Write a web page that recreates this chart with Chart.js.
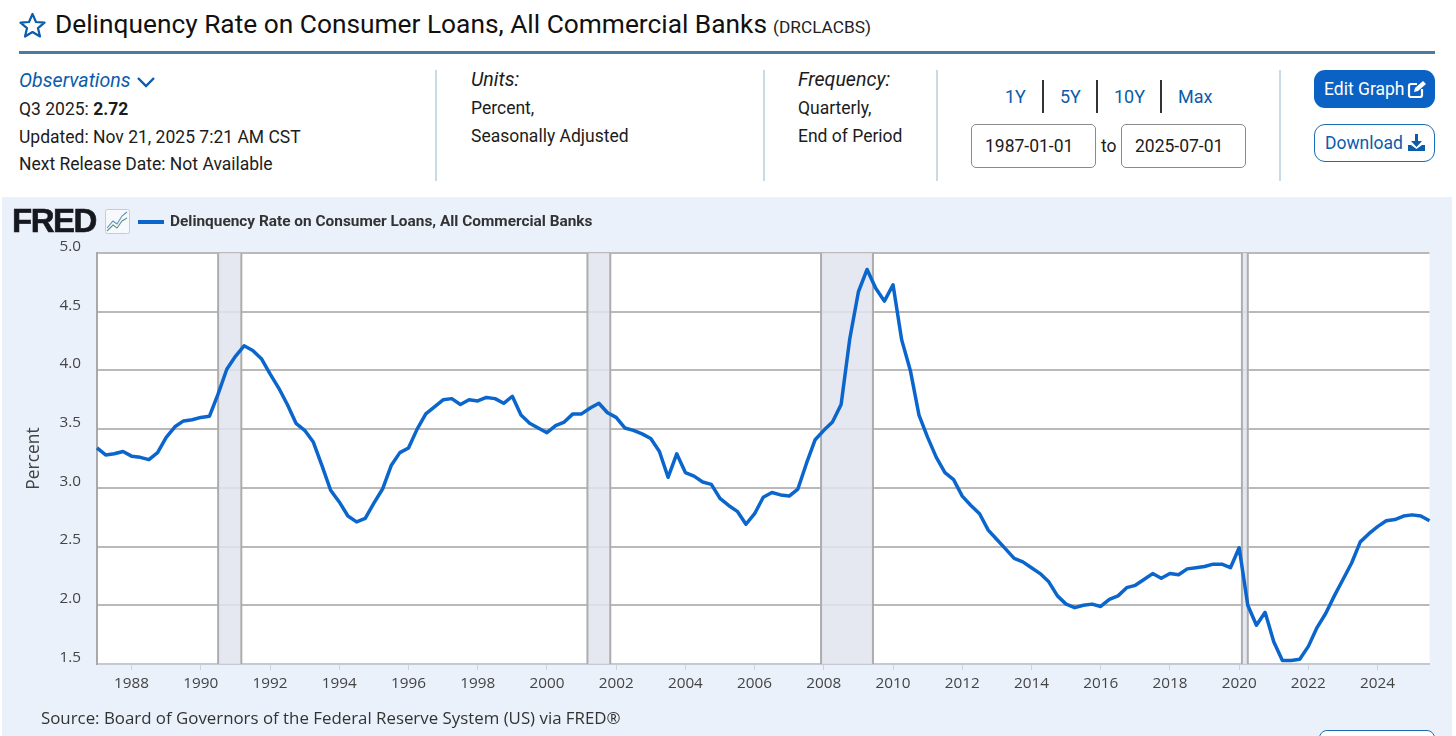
<!DOCTYPE html>
<html>
<head>
<meta charset="utf-8">
<title>Delinquency Rate on Consumer Loans, All Commercial Banks</title>
<script src="https://cdn.jsdelivr.net/npm/chart.js@4"></script>
<style>
  html, body { margin: 0; padding: 0; background: #fff; width: 1456px; height: 736px; overflow: hidden; }
  body { font-family: Roboto, sans-serif; color: #1c1c1c; position: relative; }
  .t { position: absolute; white-space: nowrap; line-height: 22px; font-size: 17.5px; }
  .blue { color: #0b5cab; }
  .rule { position: absolute; top: 70px; height: 111px; width: 2px; background: #c9dae4; }
  .sep { position: absolute; top: 80px; height: 33px; width: 2px; background: #333; }
  .box { position: absolute; top: 124px; height: 42px; width: 123px; border: 1px solid #8a8a8a; border-radius: 5px; background: #fff; }
  .btn { position: absolute; left: 1314px; width: 121px; border-radius: 11px; box-sizing: border-box; }
  #panel { position: absolute; left: 2px; top: 197px; width: 1450px; height: 539px; background: #eaf1fb; }
  #chart { position: absolute; left: 0; top: 197px; }
</style>
</head>
<body>

<svg style="position:absolute;left:19px;top:12px" width="27" height="26" viewBox="0 0 27 26">
  <polygon points="13.5,2 17,10 25.5,10.6 19,16.2 21,24.5 13.5,20 6,24.5 8,16.2 1.5,10.6 10,10" fill="none" stroke="#0b5cab" stroke-width="2.2" stroke-linejoin="round"/>
</svg>
<div class="t" style="left:55px;top:10px;font-size:26.3px;line-height:28px;color:#111">Delinquency Rate on Consumer Loans, All Commercial Banks</div>
<div class="t" style="left:773px;top:16px;font-size:17.3px;color:#222">(DRCLACBS)</div>
<div style="position:absolute;left:19px;top:51px;width:1416px;height:3px;background:#4c7b9f"></div>

<div class="t blue" style="left:19px;top:70px;font-size:19.6px;font-style:italic">Observations</div>
<svg style="position:absolute;left:136px;top:75px" width="20" height="13" viewBox="0 0 20 13">
  <polyline points="2,3 10,11 18,3" fill="none" stroke="#0b5cab" stroke-width="2.4"/>
</svg>
<div class="t" style="left:19px;top:98px">Q3 2025: <b>2.72</b></div>
<div class="t" style="left:19px;top:126px">Updated: Nov 21, 2025 7:21 AM CST</div>
<div class="t" style="left:19px;top:153px">Next Release Date: Not Available</div>

<div class="rule" style="left:435px"></div>
<div class="t" style="left:471px;top:69px;font-size:19.6px;font-style:italic">Units:</div>
<div class="t" style="left:471px;top:97px">Percent,</div>
<div class="t" style="left:471px;top:125px">Seasonally Adjusted</div>

<div class="rule" style="left:763px"></div>
<div class="t" style="left:798px;top:69px;font-size:19.6px;font-style:italic">Frequency:</div>
<div class="t" style="left:798px;top:97px">Quarterly,</div>
<div class="t" style="left:798px;top:125px">End of Period</div>

<div class="rule" style="left:936px"></div>
<div class="t blue" style="left:1005px;top:86px;font-size:18px">1Y</div>
<div class="sep" style="left:1042px"></div>
<div class="t blue" style="left:1060px;top:86px;font-size:18px">5Y</div>
<div class="sep" style="left:1096px"></div>
<div class="t blue" style="left:1114px;top:86px;font-size:18px">10Y</div>
<div class="sep" style="left:1160px"></div>
<div class="t blue" style="left:1178px;top:86px;font-size:18px">Max</div>

<div class="box" style="left:971px"></div>
<div class="t" style="left:985px;top:135px">1987-01-01</div>
<div class="t" style="left:1101px;top:135px">to</div>
<div class="box" style="left:1121px"></div>
<div class="t" style="left:1135px;top:135px">2025-07-01</div>

<div class="rule" style="left:1279px"></div>
<div class="btn" style="top:70px;height:38px;background:#0a62c4"></div>
<div class="t" style="left:1324px;top:78px;color:#fff">Edit Graph</div>
<svg style="position:absolute;left:1407px;top:79px" width="20" height="20" viewBox="0 0 20 20">
  <path d="M15 10v6a2 2 0 0 1-2 2H4a2 2 0 0 1-2-2V7a2 2 0 0 1 2-2h6" fill="none" stroke="#fff" stroke-width="2.2"/>
  <path d="M7 13l1-4 8-7 3 3-8 7z" fill="#fff"/>
</svg>
<div class="btn" style="top:124px;height:38px;background:#fff;border:1.5px solid #1a6cb0"></div>
<div class="t blue" style="left:1325px;top:132px">Download</div>
<svg style="position:absolute;left:1407px;top:133px" width="19" height="19" viewBox="0 0 19 19">
  <path d="M8 1h3v7h4l-5.5 6L4 8h4z" fill="#0b5cab"/>
  <path d="M1 12h3l5.5 4 5.5-4h3v6H1z" fill="#0b5cab"/>
</svg>

<div id="panel"></div>
<canvas id="chart" width="1456" height="539"></canvas>

<div class="t" style="left:12px;top:206px;font:900 33px/30px 'Liberation Sans',sans-serif;letter-spacing:-1.5px;color:#16181d;-webkit-text-stroke:0.6px #16181d">FRED</div>
<svg style="position:absolute;left:105px;top:209px" width="25" height="25" viewBox="0 0 25 25">
  <rect x="0.5" y="0.5" width="24" height="24" rx="2" fill="#f7f9fc" stroke="#c8ccd2"/>
  <polyline points="2,19 8,12 12,15 17,7 22,3" fill="none" stroke="#5d8fc4" stroke-width="1.1"/>
  <polyline points="2,22 8,16 12,19 17,12 22,9" fill="none" stroke="#5b9a7e" stroke-width="1.1"/>
</svg>
<div style="position:absolute;left:138px;top:220px;width:26px;height:3.5px;background:#0a66cc"></div>
<div class="t" id="legendText" style="left:170px;top:210px;font-size:15.4px;font-weight:700;color:#333"></div>
<div class="t" style="left:41px;top:707px;font-size:16.85px;font-family:'Open Sans',sans-serif;color:#333">Source: Board of Governors of the Federal Reserve System (US) via FRED®</div>
<div style="position:absolute;left:1319px;top:730px;width:114px;height:20px;background:#fff;border:1.5px solid #1a6cb0;border-radius:8px"></div>

<script>
// Quarterly observation dates, as decimal years
const quarters = [
    1987, 1987.25, 1987.5, 1987.75,
    1988, 1988.25, 1988.5, 1988.75,
    1989, 1989.25, 1989.5, 1989.75,
    1990, 1990.25, 1990.5, 1990.75,
    1991, 1991.25, 1991.5, 1991.75,
    1992, 1992.25, 1992.5, 1992.75,
    1993, 1993.25, 1993.5, 1993.75,
    1994, 1994.25, 1994.5, 1994.75,
    1995, 1995.25, 1995.5, 1995.75,
    1996, 1996.25, 1996.5, 1996.75,
    1997, 1997.25, 1997.5, 1997.75,
    1998, 1998.25, 1998.5, 1998.75,
    1999, 1999.25, 1999.5, 1999.75,
    2000, 2000.25, 2000.5, 2000.75,
    2001, 2001.25, 2001.5, 2001.75,
    2002, 2002.25, 2002.5, 2002.75,
    2003, 2003.25, 2003.5, 2003.75,
    2004, 2004.25, 2004.5, 2004.75,
    2005, 2005.25, 2005.5, 2005.75,
    2006, 2006.25, 2006.5, 2006.75,
    2007, 2007.25, 2007.5, 2007.75,
    2008, 2008.25, 2008.5, 2008.75,
    2009, 2009.25, 2009.5, 2009.75,
    2010, 2010.25, 2010.5, 2010.75,
    2011, 2011.25, 2011.5, 2011.75,
    2012, 2012.25, 2012.5, 2012.75,
    2013, 2013.25, 2013.5, 2013.75,
    2014, 2014.25, 2014.5, 2014.75,
    2015, 2015.25, 2015.5, 2015.75,
    2016, 2016.25, 2016.5, 2016.75,
    2017, 2017.25, 2017.5, 2017.75,
    2018, 2018.25, 2018.5, 2018.75,
    2019, 2019.25, 2019.5, 2019.75,
    2020, 2020.25, 2020.5, 2020.75,
    2021, 2021.25, 2021.5, 2021.75,
    2022, 2022.25, 2022.5, 2022.75,
    2023, 2023.25, 2023.5, 2023.75,
    2024, 2024.25, 2024.5, 2024.75,
    2025, 2025.25, 2025.5
];

// Delinquency rate in percent
const rate = [
    3.34, 3.28, 3.29, 3.31,
    3.27, 3.26, 3.24, 3.30,
    3.43, 3.52, 3.57, 3.58,
    3.60, 3.61, 3.80, 4.01,
    4.12, 4.21, 4.17, 4.10,
    3.97, 3.85, 3.71, 3.55,
    3.49, 3.39, 3.19, 2.98,
    2.88, 2.76, 2.71, 2.74,
    2.87, 2.99, 3.19, 3.30,
    3.34, 3.50, 3.63, 3.69,
    3.75, 3.76, 3.71, 3.75,
    3.74, 3.77, 3.76, 3.72,
    3.78, 3.62, 3.55, 3.51,
    3.47, 3.53, 3.56, 3.63,
    3.63, 3.68, 3.72, 3.64,
    3.60, 3.51, 3.49, 3.46,
    3.42, 3.31, 3.09, 3.29,
    3.13, 3.10, 3.05, 3.03,
    2.91, 2.85, 2.80, 2.69,
    2.78, 2.92, 2.96, 2.94,
    2.93, 2.99, 3.21, 3.41,
    3.49, 3.56, 3.71, 4.27,
    4.67, 4.86, 4.70, 4.59,
    4.73, 4.26, 4.00, 3.62,
    3.43, 3.26, 3.13, 3.07,
    2.93, 2.85, 2.78, 2.64,
    2.56, 2.48, 2.40, 2.37,
    2.32, 2.27, 2.20, 2.08,
    2.01, 1.98, 2.00, 2.01,
    1.99, 2.05, 2.08, 2.15,
    2.17, 2.22, 2.27, 2.23,
    2.27, 2.26, 2.31, 2.32,
    2.33, 2.35, 2.35, 2.32,
    2.49, 2.00, 1.83, 1.94,
    1.69, 1.53, 1.53, 1.54,
    1.65, 1.81, 1.93, 2.08,
    2.22, 2.36, 2.54, 2.61,
    2.67, 2.72, 2.73, 2.76,
    2.77, 2.76, 2.72
];

const tickYears = [1988, 1990, 1992, 1994, 1996, 1998, 2000, 2002, 2004, 2006, 2008, 2010, 2012, 2014, 2016, 2018, 2020, 2022, 2024];
const recessionStart = [1990.5, 2001.17, 2007.92, 2020.08];
const recessionEnd = [1991.17, 2001.83, 2009.42, 2020.25];
const seriesName = 'Delinquency Rate on Consumer Loans, All Commercial Banks';

document.getElementById('legendText').textContent = seriesName;

// White plot background and the grey recession bands
const plotBands = {
    id: 'plotBands',
    beforeDraw(chart) {
        const a = chart.chartArea;
        const c = chart.ctx;
        c.save();
        c.fillStyle = '#ffffff';
        c.fillRect(a.left, a.top, a.right - a.left, a.bottom - a.top);
        c.restore();
    },
    beforeDatasetsDraw(chart) {
        const a = chart.chartArea;
        const c = chart.ctx;
        const x = chart.scales.x;
        c.save();
        recessionStart.forEach((start, i) => {
            const x0 = x.getPixelForValue(start);
            const x1 = x.getPixelForValue(recessionEnd[i]);
            c.fillStyle = 'rgba(224,228,237,0.85)';
            c.fillRect(x0, a.top, x1 - x0, a.bottom - a.top);
            c.fillStyle = '#adadad';
            c.fillRect(x0 - 1, a.top, 2, a.bottom - a.top);
            c.fillRect(x1 - 1, a.top, 2, a.bottom - a.top);
        });
        c.restore();
    }
};

new Chart(document.getElementById('chart').getContext('2d'), {
    type: 'line',
    plugins: [plotBands],
    data: {
        datasets: [{
            label: seriesName,
            data: quarters.map((q, i) => ({ x: q, y: rate[i] })),
            borderColor: '#0a66cc',
            borderWidth: 3.5,
            pointRadius: 0,
            tension: 0,
            borderJoinStyle: 'round',
            clip: false
        }]
    },
    options: {
        responsive: false,
        animation: false,
        layout: { padding: { top: 56, right: 26.5, left: 0, bottom: 0 } },
        plugins: { legend: { display: false }, tooltip: { enabled: false } },
        scales: {
            x: {
                type: 'linear',
                min: 1987,
                max: 2025.5,
                afterBuildTicks: s => { s.ticks = tickYears.map(v => ({ value: v })); },
                afterFit: s => { s.height = 72; },
                grid: { drawOnChartArea: false, tickLength: 6, tickColor: '#ccd3df', tickWidth: 1 },
                border: { color: '#c3c8d2', width: 2 },
                ticks: {
                    autoSkip: false,
                    maxRotation: 0,
                    padding: 4,
                    color: '#444',
                    font: { family: 'Open Sans', size: 15.3 },
                    callback: v => String(v)
                }
            },
            y: {
                min: 1.5,
                max: 5,
                afterFit: s => { s.width = 97; },
                grid: { color: '#b9b9b9', lineWidth: 2, drawTicks: false },
                border: { color: '#a9a9a9', width: 2 },
                title: {
                    display: true,
                    text: 'Percent',
                    color: '#444',
                    font: { family: 'Open Sans', size: 17.4 },
                    padding: { top: 24, bottom: 0 }
                },
                ticks: {
                    stepSize: 0.5,
                    padding: 16,
                    labelOffset: -6.5,
                    color: '#444',
                    font: { family: 'Open Sans', size: 15.3 },
                    callback: v => v.toFixed(1)
                }
            }
        }
    }
});
</script>
</body>
</html>
